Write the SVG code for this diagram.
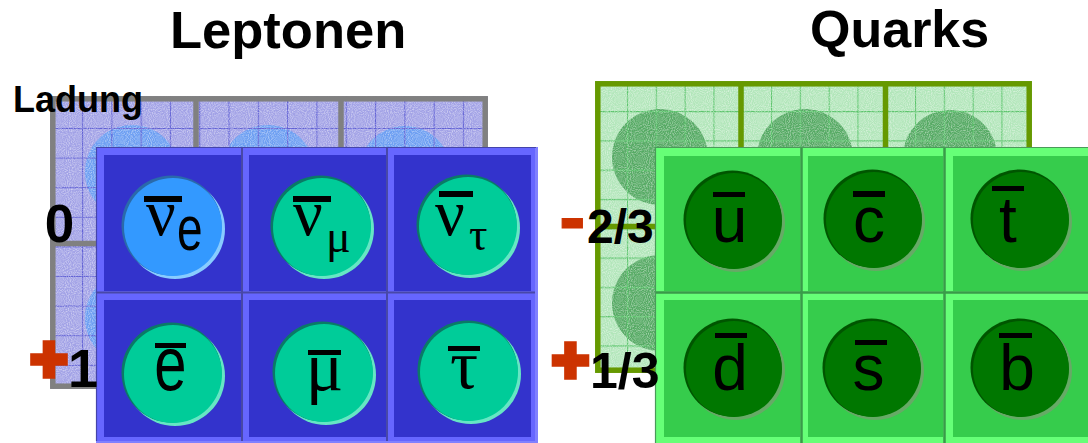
<svg xmlns="http://www.w3.org/2000/svg" width="1088" height="443" viewBox="0 0 1088 443">
<defs>
<style>
.lbl{font-family:"Liberation Sans",Arial,sans-serif;font-weight:bold;fill:#000}
.red{font-family:"Liberation Sans",Arial,sans-serif;font-weight:bold;fill:#cc3300;stroke:#cc3300}
.sans{font-family:"Liberation Sans",Arial,sans-serif;fill:#000}
.ser{font-family:"Liberation Serif","Times New Roman",serif;fill:#000}
.bar{fill:#000}
.lin{fill:#3333cc}
.gin{fill:#36cc4c}
.lhi{fill:#66e6c4}.ldk{fill:#0a7a66}.lmain{fill:#00cc99}
.bhi{fill:#88ccff}.bdk{fill:#2a6aaa}.bmain{fill:#3399ff}
.ghi{fill:#66aa66}.gdk{fill:#005500}.gmain{fill:#007700}
</style>
<pattern id="gridL" patternUnits="userSpaceOnUse" x="82" y="128" width="29.3" height="29.6"><path d="M0.5 0V29.6M0 0.5H29.3" stroke="#6060d4" stroke-width="1.2" fill="none"/></pattern>
<pattern id="gridQ" patternUnits="userSpaceOnUse" x="627" y="111" width="28.8" height="29.3"><path d="M0.5 0V29.3M0 0.5H28.8" stroke="#5cc46c" stroke-width="1.2" fill="none"/></pattern>
<filter id="noise" x="0" y="0" width="1" height="1">
<feTurbulence type="fractalNoise" baseFrequency="0.95" numOctaves="1" seed="3"/>
<feColorMatrix type="matrix" values="0 0 0 0 1  0 0 0 0 1  0 0 0 0 1  1.1 0 0 0 -0.42"/>
</filter>
</defs>
<rect width="1088" height="443" fill="#fff"/>

<!-- back layers -->
<g id="leptons-back">
<rect x="50" y="96" width="438" height="293" fill="#a2a2e6"/>
<g fill="#6c9ef2">
<circle cx="132" cy="172" r="47"/><circle cx="268" cy="172" r="47"/><circle cx="405" cy="172" r="46"/>
<circle cx="132" cy="318" r="47"/><circle cx="268" cy="318" r="47"/><circle cx="405" cy="318" r="46"/>
</g>
<rect x="50" y="96" width="438" height="293" fill="url(#gridL)"/>
<rect x="50" y="96" width="438" height="293" filter="url(#noise)"/>
<g stroke="#808080" stroke-width="5.5" fill="none">
<rect x="52.8" y="98.8" width="432.4" height="287.4"/>
<path d="M196 97V388M341 97V388M51 243.5H487"/>
</g>
</g>

<g id="quarks-back">
<rect x="595" y="81" width="437" height="292" fill="#b2e6ba"/>
<g fill="#56aa64">
<circle cx="660" cy="157" r="48"/><circle cx="805" cy="157" r="48"/><circle cx="950" cy="157" r="47"/>
<circle cx="660" cy="303" r="48"/><circle cx="805" cy="303" r="48"/><circle cx="950" cy="303" r="47"/>
</g>
<rect x="595" y="81" width="437" height="292" fill="url(#gridQ)"/>
<rect x="595" y="81" width="437" height="292" filter="url(#noise)"/>
<g stroke="#669900" stroke-width="5.5" fill="none">
<rect x="597.8" y="83.8" width="431.4" height="286.4"/>
<path d="M741 82V372M885.5 82V372M596 226.5H1031"/>
</g>
</g>

<!-- front lepton panel -->
<g id="leptons-front">
<rect x="96" y="147" width="442" height="296" fill="#8080ff"/>
<rect x="96" y="147" width="439" height="294" fill="#6666ff"/>
<path d="M96 147.5H536M96.5 147V441" stroke="#4444aa" stroke-width="1.2" fill="none"/>
<path d="M242 148V441M387 148V441M97 292.5H535" stroke="#4848a8" stroke-width="2" fill="none"/>
</g>

<g id="anti-electron-neutrino">
<rect class="lin" x="104" y="155" width="137" height="136"/>
<circle class="bhi" cx="175" cy="229" r="50"/><circle class="bdk" cx="171.5" cy="225.5" r="50"/><circle class="bmain" cx="173" cy="227" r="49"/>
<rect class="bar" x="144" y="196" width="38" height="6"/>
<text class="ser" x="146" y="235" font-size="66">ν</text>
<text class="sans" font-size="46" transform="translate(177 250) scale(1 1.35)">e</text>
</g>

<g id="anti-muon-neutrino">
<rect class="lin" x="249" y="155" width="137" height="136"/>
<circle class="lhi" cx="324" cy="229" r="50"/><circle class="ldk" cx="320.5" cy="225.5" r="50"/><circle class="lmain" cx="322" cy="227" r="49"/>
<rect class="bar" x="293" y="196" width="38" height="6"/>
<text class="ser" x="293" y="235" font-size="66">ν</text>
<text class="ser" x="326" y="252" font-size="46">μ</text>
</g>

<g id="anti-tau-neutrino">
<rect class="lin" x="394" y="155" width="137" height="136"/>
<circle class="lhi" cx="470" cy="228" r="50"/><circle class="ldk" cx="466.5" cy="224.5" r="50"/><circle class="lmain" cx="468" cy="226" r="49"/>
<rect class="bar" x="439" y="191" width="34" height="6"/>
<text class="ser" x="435" y="235" font-size="66">ν</text>
<text class="ser" x="469" y="250" font-size="46">τ</text>
</g>

<g id="positron">
<rect class="lin" x="104" y="300" width="137" height="137"/>
<circle class="lhi" cx="175" cy="376" r="50"/><circle class="ldk" cx="171.5" cy="372.5" r="50"/><circle class="lmain" cx="173" cy="374" r="49"/>
<rect class="bar" x="155" y="343" width="31" height="5"/>
<text class="sans" font-size="58" text-anchor="middle" transform="translate(170.5 390) scale(1 1.3)">e</text>
</g>

<g id="antimuon">
<rect class="lin" x="249" y="300" width="137" height="137"/>
<circle class="lhi" cx="326" cy="375" r="50"/><circle class="ldk" cx="322.5" cy="371.5" r="50"/><circle class="lmain" cx="324" cy="373" r="49"/>
<rect class="bar" x="308" y="350" width="33" height="5"/>
<text class="ser" x="324.5" y="390" font-size="70" text-anchor="middle">μ</text>
</g>

<g id="antitau">
<rect class="lin" x="394" y="300" width="137" height="137"/>
<circle class="lhi" cx="471" cy="374" r="50"/><circle class="ldk" cx="467.5" cy="370.5" r="50"/><circle class="lmain" cx="469" cy="372" r="49"/>
<rect class="bar" x="448" y="346" width="32" height="5"/>
<text class="ser" x="464" y="388" font-size="70" text-anchor="middle">τ</text>
</g>

<!-- front quark panel -->
<g id="quarks-front">
<rect x="655" y="147" width="440" height="296" fill="#66ff77"/>
<path d="M655 147.5H1088M655.5 147V443" stroke="#4a9a5a" stroke-width="1.2" fill="none"/>
<path d="M801.5 148V443M944.5 148V443M656 292.5H1088" stroke="#3a9a4a" stroke-width="2.5" fill="none"/>
</g>

<g id="anti-up">
<rect class="gin" x="664" y="156" width="136" height="135"/>
<circle class="ghi" cx="736" cy="223" r="49"/><circle class="gdk" cx="732.5" cy="219.5" r="49"/><circle class="gmain" cx="734" cy="221" r="48"/>
<rect class="bar" x="713" y="192" width="32" height="5"/>
<text class="sans" x="729.5" y="242" font-size="64" text-anchor="middle">u</text>
</g>

<g id="anti-charm">
<rect class="gin" x="808" y="156" width="135" height="135"/>
<circle class="ghi" cx="876" cy="222" r="49"/><circle class="gdk" cx="872.5" cy="218.5" r="49"/><circle class="gmain" cx="874" cy="220" r="48"/>
<rect class="bar" x="853" y="191" width="32" height="6"/>
<text class="sans" x="869" y="242" font-size="64" text-anchor="middle">c</text>
</g>

<g id="anti-top">
<rect class="gin" x="953" y="156" width="140" height="135"/>
<circle class="ghi" cx="1023" cy="222" r="49"/><circle class="gdk" cx="1019.5" cy="218.5" r="49"/><circle class="gmain" cx="1021" cy="220" r="48"/>
<rect class="bar" x="992" y="186" width="32" height="5"/>
<text class="sans" x="1008" y="242" font-size="64" text-anchor="middle">t</text>
</g>

<g id="anti-down">
<rect class="gin" x="664" y="300" width="136" height="137"/>
<circle class="ghi" cx="736" cy="371" r="49"/><circle class="gdk" cx="732.5" cy="367.5" r="49"/><circle class="gmain" cx="734" cy="369" r="48"/>
<rect class="bar" x="715" y="333" width="32" height="5"/>
<text class="sans" x="730" y="390" font-size="64" text-anchor="middle">d</text>
</g>

<g id="anti-strange">
<rect class="gin" x="808" y="300" width="135" height="137"/>
<circle class="ghi" cx="875" cy="371" r="49"/><circle class="gdk" cx="871.5" cy="367.5" r="49"/><circle class="gmain" cx="873" cy="369" r="48"/>
<rect class="bar" x="855" y="340" width="32" height="5"/>
<text class="sans" x="868.5" y="390" font-size="64" text-anchor="middle">s</text>
</g>

<g id="anti-bottom">
<rect class="gin" x="953" y="300" width="140" height="137"/>
<circle class="ghi" cx="1023" cy="371" r="49"/><circle class="gdk" cx="1019.5" cy="367.5" r="49"/><circle class="gmain" cx="1021" cy="369" r="48"/>
<rect class="bar" x="999" y="333" width="33" height="5"/>
<text class="sans" x="1017" y="390" font-size="64" text-anchor="middle">b</text>
</g>

<!-- titles and charge labels -->
<g id="labels">
<text class="lbl" x="170" y="48" font-size="52.5">Leptonen</text>
<text class="lbl" x="810" y="47" font-size="52">Quarks</text>
<text class="lbl" x="13" y="112" font-size="36">Ladung</text>
<text class="lbl" x="59.5" y="242" font-size="53" text-anchor="middle">0</text>
<text class="red" x="49" y="381" font-size="64" stroke-width="5.5" text-anchor="middle">+</text>
<text class="lbl" x="68" y="387" font-size="54">1</text>
<text class="red" x="559" y="244" font-size="80" stroke-width="1">-</text>
<text class="lbl" x="587" y="243" font-size="48">2/3</text>
<text class="red" x="570.5" y="382" font-size="64" stroke-width="5.5" text-anchor="middle">+</text>
<text class="lbl" x="590" y="388" font-size="50">1/3</text>
</g>
</svg>
